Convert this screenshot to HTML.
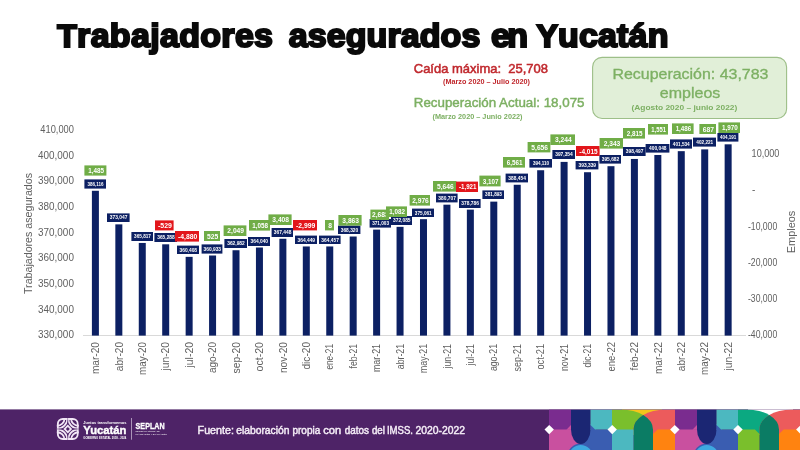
<!DOCTYPE html>
<html lang="es"><head><meta charset="utf-8"><title>Trabajadores asegurados en Yucatán</title>
<style>html,body{margin:0;padding:0;background:#fff;}body{width:800px;height:450px;overflow:hidden;}svg{display:block;}text{font-family:"Liberation Sans", sans-serif;}</style>
</head><body>
<svg width="800" height="450" viewBox="0 0 800 450">
<rect x="0" y="0" width="800" height="450" fill="#ffffff"/>
<g transform="translate(57.15,47.05) scale(1.030,1)"><text x="0" y="0" font-size="31.2" fill="#0a0a0a" font-weight="bold" textLength="209.56" lengthAdjust="spacing" stroke="#0a0a0a" stroke-width="2.1" stroke-linejoin="miter">T<tspan font-size="33">rabajadores</tspan></text></g>
<g transform="translate(288.70,47.05) scale(1.030,1)"><text x="0" y="0" font-size="33" fill="#0a0a0a" font-weight="bold" textLength="186.02" lengthAdjust="spacing" stroke="#0a0a0a" stroke-width="2.1" stroke-linejoin="miter">asegurados</text></g>
<g transform="translate(491.10,47.05) scale(1.030,1)"><text x="0" y="0" font-size="33" fill="#0a0a0a" font-weight="bold" textLength="35.83" lengthAdjust="spacing" stroke="#0a0a0a" stroke-width="2.1" stroke-linejoin="miter">en</text></g>
<g transform="translate(536.40,47.05) scale(1.030,1)"><text x="0" y="0" font-size="31.2" fill="#0a0a0a" font-weight="bold" textLength="128.16" lengthAdjust="spacing" stroke="#0a0a0a" stroke-width="2.1" stroke-linejoin="miter">Y<tspan font-size="33">ucatán</tspan></text></g>
<text x="413.75" y="73.25" font-size="12.60" fill="#c0282d" font-weight="normal" text-anchor="start" textLength="134.25" lengthAdjust="spacingAndGlyphs" xml:space="preserve" stroke="#c0282d" stroke-width="0.5">Caída máxima:  25,708</text>
<text x="443.00" y="84.20" font-size="6.40" fill="#c0282d" font-weight="bold" text-anchor="start" textLength="87.00" lengthAdjust="spacingAndGlyphs" >(Marzo 2020 – Julio 2020)</text>
<text x="413.75" y="107.00" font-size="13.20" fill="#7db063" font-weight="normal" text-anchor="start" textLength="170.75" lengthAdjust="spacingAndGlyphs" stroke="#7db063" stroke-width="0.45">Recuperación Actual: 18,075</text>
<text x="432.50" y="118.70" font-size="6.40" fill="#7db063" font-weight="bold" text-anchor="start" textLength="90.00" lengthAdjust="spacingAndGlyphs" >(Marzo 2020 – Junio 2022)</text>
<rect x="592.6" y="57.4" width="194" height="61.1" rx="9.5" ry="9.5" fill="#e1efd8" stroke="#9dbf88" stroke-width="1.1"/>
<text x="612.50" y="78.90" font-size="14.20" fill="#7db063" font-weight="normal" text-anchor="start" textLength="155.90" lengthAdjust="spacingAndGlyphs" stroke="#7db063" stroke-width="0.3">Recuperación: 43,783</text>
<text x="659.80" y="97.90" font-size="14.20" fill="#7db063" font-weight="normal" text-anchor="start" textLength="60.50" lengthAdjust="spacingAndGlyphs" stroke="#7db063" stroke-width="0.3">empleos</text>
<text x="631.40" y="110.10" font-size="7.60" fill="#7db063" font-weight="bold" text-anchor="start" textLength="105.90" lengthAdjust="spacingAndGlyphs" >(Agosto 2020 – junio 2022)</text>
<text x="73.90" y="338.40" font-size="10.00" fill="#606060" font-weight="normal" text-anchor="end" textLength="35.80" lengthAdjust="spacingAndGlyphs" >330,000</text>
<text x="73.90" y="312.70" font-size="10.00" fill="#606060" font-weight="normal" text-anchor="end" textLength="35.80" lengthAdjust="spacingAndGlyphs" >340,000</text>
<text x="73.90" y="287.00" font-size="10.00" fill="#606060" font-weight="normal" text-anchor="end" textLength="35.80" lengthAdjust="spacingAndGlyphs" >350,000</text>
<text x="73.90" y="261.30" font-size="10.00" fill="#606060" font-weight="normal" text-anchor="end" textLength="35.80" lengthAdjust="spacingAndGlyphs" >360,000</text>
<text x="73.90" y="235.60" font-size="10.00" fill="#606060" font-weight="normal" text-anchor="end" textLength="35.80" lengthAdjust="spacingAndGlyphs" >370,000</text>
<text x="73.90" y="209.90" font-size="10.00" fill="#606060" font-weight="normal" text-anchor="end" textLength="35.80" lengthAdjust="spacingAndGlyphs" >380,000</text>
<text x="73.90" y="184.20" font-size="10.00" fill="#606060" font-weight="normal" text-anchor="end" textLength="35.80" lengthAdjust="spacingAndGlyphs" >390,000</text>
<text x="73.90" y="158.50" font-size="10.00" fill="#606060" font-weight="normal" text-anchor="end" textLength="35.80" lengthAdjust="spacingAndGlyphs" >400,000</text>
<text x="73.90" y="132.80" font-size="10.00" fill="#606060" font-weight="normal" text-anchor="end" textLength="33.60" lengthAdjust="spacingAndGlyphs" >410,000</text>
<text x="751.60" y="157.15" font-size="10.00" fill="#606060" font-weight="normal" text-anchor="start" textLength="27.80" lengthAdjust="spacingAndGlyphs" >10,000</text>
<text x="752.00" y="193.40" font-size="10.00" fill="#606060" font-weight="normal" text-anchor="start" >-</text>
<text x="748.00" y="229.65" font-size="10.00" fill="#606060" font-weight="normal" text-anchor="start" textLength="29.20" lengthAdjust="spacingAndGlyphs" >-10,000</text>
<text x="748.00" y="265.90" font-size="10.00" fill="#606060" font-weight="normal" text-anchor="start" textLength="29.20" lengthAdjust="spacingAndGlyphs" >-20,000</text>
<text x="748.00" y="302.15" font-size="10.00" fill="#606060" font-weight="normal" text-anchor="start" textLength="29.20" lengthAdjust="spacingAndGlyphs" >-30,000</text>
<text x="748.00" y="338.40" font-size="10.00" fill="#606060" font-weight="normal" text-anchor="start" textLength="29.20" lengthAdjust="spacingAndGlyphs" >-40,000</text>
<text transform="translate(32.2,233.5) rotate(-90)" font-size="10.3" fill="#606060" text-anchor="middle" textLength="121" lengthAdjust="spacingAndGlyphs">Trabajadores asegurados</text>
<text transform="translate(795.2,232) rotate(-90)" font-size="10.3" fill="#606060" text-anchor="middle" textLength="42.5" lengthAdjust="spacingAndGlyphs">Empleos</text>
<rect x="83" y="335" width="663" height="1" fill="#d9d9d9"/>
<rect x="91.90" y="190.78" width="7.00" height="144.82" fill="#0c2063"/>
<rect x="115.34" y="224.37" width="7.00" height="111.23" fill="#0c2063"/>
<rect x="138.77" y="242.95" width="7.00" height="92.65" fill="#0c2063"/>
<rect x="162.20" y="244.31" width="7.00" height="91.29" fill="#0c2063"/>
<rect x="185.64" y="256.85" width="7.00" height="78.75" fill="#0c2063"/>
<rect x="209.07" y="255.50" width="7.00" height="80.10" fill="#0c2063"/>
<rect x="232.51" y="250.24" width="7.00" height="85.36" fill="#0c2063"/>
<rect x="255.94" y="247.52" width="7.00" height="88.08" fill="#0c2063"/>
<rect x="279.38" y="238.76" width="7.00" height="96.84" fill="#0c2063"/>
<rect x="302.81" y="246.47" width="7.00" height="89.13" fill="#0c2063"/>
<rect x="326.25" y="246.45" width="7.00" height="89.15" fill="#0c2063"/>
<rect x="349.68" y="236.52" width="7.00" height="99.08" fill="#0c2063"/>
<rect x="373.12" y="229.62" width="7.00" height="105.98" fill="#0c2063"/>
<rect x="396.55" y="226.84" width="7.00" height="108.76" fill="#0c2063"/>
<rect x="419.99" y="219.19" width="7.00" height="116.41" fill="#0c2063"/>
<rect x="443.42" y="204.68" width="7.00" height="130.92" fill="#0c2063"/>
<rect x="466.86" y="209.62" width="7.00" height="125.98" fill="#0c2063"/>
<rect x="490.29" y="201.63" width="7.00" height="133.97" fill="#0c2063"/>
<rect x="513.73" y="184.77" width="7.00" height="150.83" fill="#0c2063"/>
<rect x="537.16" y="170.24" width="7.00" height="165.36" fill="#0c2063"/>
<rect x="560.60" y="161.90" width="7.00" height="173.70" fill="#0c2063"/>
<rect x="584.03" y="172.22" width="7.00" height="163.38" fill="#0c2063"/>
<rect x="607.47" y="166.20" width="7.00" height="169.40" fill="#0c2063"/>
<rect x="630.90" y="158.96" width="7.00" height="176.64" fill="#0c2063"/>
<rect x="654.34" y="154.98" width="7.00" height="180.62" fill="#0c2063"/>
<rect x="677.77" y="151.16" width="7.00" height="184.44" fill="#0c2063"/>
<rect x="701.21" y="149.39" width="7.00" height="186.21" fill="#0c2063"/>
<rect x="724.64" y="144.33" width="7.00" height="191.27" fill="#0c2063"/>
<text transform="translate(99.10,342.00) rotate(-90)" font-size="10.2" fill="#606060" text-anchor="end" textLength="32.1" lengthAdjust="spacingAndGlyphs">mar-20</text>
<text transform="translate(122.54,342.00) rotate(-90)" font-size="10.2" fill="#606060" text-anchor="end" textLength="29.2" lengthAdjust="spacingAndGlyphs">abr-20</text>
<text transform="translate(145.97,342.00) rotate(-90)" font-size="10.2" fill="#606060" text-anchor="end" textLength="32.9" lengthAdjust="spacingAndGlyphs">may-20</text>
<text transform="translate(169.40,342.00) rotate(-90)" font-size="10.2" fill="#606060" text-anchor="end" textLength="28.5" lengthAdjust="spacingAndGlyphs">jun-20</text>
<text transform="translate(192.84,342.00) rotate(-90)" font-size="10.2" fill="#606060" text-anchor="end" textLength="25.5" lengthAdjust="spacingAndGlyphs">jul-20</text>
<text transform="translate(216.27,342.00) rotate(-90)" font-size="10.2" fill="#606060" text-anchor="end" textLength="31.1" lengthAdjust="spacingAndGlyphs">ago-20</text>
<text transform="translate(239.71,342.00) rotate(-90)" font-size="10.2" fill="#606060" text-anchor="end" textLength="31.5" lengthAdjust="spacingAndGlyphs">sep-20</text>
<text transform="translate(263.14,342.00) rotate(-90)" font-size="10.2" fill="#606060" text-anchor="end" textLength="29.5" lengthAdjust="spacingAndGlyphs">oct-20</text>
<text transform="translate(286.58,342.00) rotate(-90)" font-size="10.2" fill="#606060" text-anchor="end" textLength="31.1" lengthAdjust="spacingAndGlyphs">nov-20</text>
<text transform="translate(310.01,342.00) rotate(-90)" font-size="10.2" fill="#606060" text-anchor="end" textLength="27.5" lengthAdjust="spacingAndGlyphs">dic-20</text>
<text transform="translate(333.45,344.00) rotate(-90)" font-size="10.2" fill="#606060" text-anchor="end" textLength="25.6" lengthAdjust="spacingAndGlyphs">ene-21</text>
<text transform="translate(356.88,344.00) rotate(-90)" font-size="10.2" fill="#606060" text-anchor="end" textLength="24.4" lengthAdjust="spacingAndGlyphs">feb-21</text>
<text transform="translate(380.32,344.00) rotate(-90)" font-size="10.2" fill="#606060" text-anchor="end" textLength="28.1" lengthAdjust="spacingAndGlyphs">mar-21</text>
<text transform="translate(403.75,344.00) rotate(-90)" font-size="10.2" fill="#606060" text-anchor="end" textLength="25.2" lengthAdjust="spacingAndGlyphs">abr-21</text>
<text transform="translate(427.19,344.00) rotate(-90)" font-size="10.2" fill="#606060" text-anchor="end" textLength="28.9" lengthAdjust="spacingAndGlyphs">may-21</text>
<text transform="translate(450.62,344.00) rotate(-90)" font-size="10.2" fill="#606060" text-anchor="end" textLength="24.5" lengthAdjust="spacingAndGlyphs">jun-21</text>
<text transform="translate(474.06,344.00) rotate(-90)" font-size="10.2" fill="#606060" text-anchor="end" textLength="21.5" lengthAdjust="spacingAndGlyphs">jul-21</text>
<text transform="translate(497.49,344.00) rotate(-90)" font-size="10.2" fill="#606060" text-anchor="end" textLength="27.1" lengthAdjust="spacingAndGlyphs">ago-21</text>
<text transform="translate(520.93,344.00) rotate(-90)" font-size="10.2" fill="#606060" text-anchor="end" textLength="27.5" lengthAdjust="spacingAndGlyphs">sep-21</text>
<text transform="translate(544.37,344.00) rotate(-90)" font-size="10.2" fill="#606060" text-anchor="end" textLength="25.5" lengthAdjust="spacingAndGlyphs">oct-21</text>
<text transform="translate(567.80,344.00) rotate(-90)" font-size="10.2" fill="#606060" text-anchor="end" textLength="27.1" lengthAdjust="spacingAndGlyphs">nov-21</text>
<text transform="translate(591.24,344.00) rotate(-90)" font-size="10.2" fill="#606060" text-anchor="end" textLength="23.5" lengthAdjust="spacingAndGlyphs">dic-21</text>
<text transform="translate(614.67,342.00) rotate(-90)" font-size="10.2" fill="#606060" text-anchor="end" textLength="29.6" lengthAdjust="spacingAndGlyphs">ene-22</text>
<text transform="translate(638.11,342.00) rotate(-90)" font-size="10.2" fill="#606060" text-anchor="end" textLength="28.4" lengthAdjust="spacingAndGlyphs">feb-22</text>
<text transform="translate(661.54,342.00) rotate(-90)" font-size="10.2" fill="#606060" text-anchor="end" textLength="32.1" lengthAdjust="spacingAndGlyphs">mar-22</text>
<text transform="translate(684.98,342.00) rotate(-90)" font-size="10.2" fill="#606060" text-anchor="end" textLength="29.2" lengthAdjust="spacingAndGlyphs">abr-22</text>
<text transform="translate(708.41,342.00) rotate(-90)" font-size="10.2" fill="#606060" text-anchor="end" textLength="32.9" lengthAdjust="spacingAndGlyphs">may-22</text>
<text transform="translate(731.85,342.00) rotate(-90)" font-size="10.2" fill="#606060" text-anchor="end" textLength="28.5" lengthAdjust="spacingAndGlyphs">jun-22</text>
<rect x="717.40" y="133.00" width="21.00" height="8.60" fill="#0c2063"/>
<text x="728.20" y="139.06" font-size="4.90" fill="#ffffff" font-weight="bold" text-anchor="middle" textLength="16.18" lengthAdjust="spacingAndGlyphs" >404,191</text>
<rect x="693.00" y="137.60" width="23.00" height="9.00" fill="#0c2063"/>
<text x="704.80" y="143.86" font-size="4.90" fill="#ffffff" font-weight="bold" text-anchor="middle" textLength="16.86" lengthAdjust="spacingAndGlyphs" >402,221</text>
<rect x="670.00" y="139.40" width="22.00" height="9.20" fill="#0c2063"/>
<text x="681.30" y="145.76" font-size="4.90" fill="#ffffff" font-weight="bold" text-anchor="middle" textLength="16.86" lengthAdjust="spacingAndGlyphs" >401,534</text>
<rect x="645.60" y="144.00" width="23.80" height="8.60" fill="#0c2063"/>
<text x="657.80" y="150.06" font-size="4.90" fill="#ffffff" font-weight="bold" text-anchor="middle" textLength="17.54" lengthAdjust="spacingAndGlyphs" >400,048</text>
<rect x="623.00" y="147.00" width="22.60" height="9.00" fill="#0c2063"/>
<text x="634.60" y="153.26" font-size="4.90" fill="#ffffff" font-weight="bold" text-anchor="middle" textLength="17.54" lengthAdjust="spacingAndGlyphs" >398,497</text>
<rect x="599.40" y="155.00" width="21.60" height="8.60" fill="#0c2063"/>
<text x="610.50" y="161.06" font-size="4.90" fill="#ffffff" font-weight="bold" text-anchor="middle" textLength="17.54" lengthAdjust="spacingAndGlyphs" >395,682</text>
<rect x="575.60" y="161.00" width="22.80" height="8.40" fill="#0c2063"/>
<text x="587.30" y="166.96" font-size="4.90" fill="#ffffff" font-weight="bold" text-anchor="middle" textLength="17.54" lengthAdjust="spacingAndGlyphs" >393,339</text>
<rect x="552.40" y="150.00" width="22.60" height="9.00" fill="#0c2063"/>
<text x="564.00" y="156.26" font-size="4.90" fill="#ffffff" font-weight="bold" text-anchor="middle" textLength="17.54" lengthAdjust="spacingAndGlyphs" >397,354</text>
<rect x="529.40" y="159.00" width="22.60" height="8.60" fill="#0c2063"/>
<text x="541.00" y="165.06" font-size="4.90" fill="#ffffff" font-weight="bold" text-anchor="middle" textLength="16.18" lengthAdjust="spacingAndGlyphs" >394,110</text>
<rect x="505.60" y="173.60" width="22.40" height="8.80" fill="#0c2063"/>
<text x="517.10" y="179.76" font-size="4.90" fill="#ffffff" font-weight="bold" text-anchor="middle" textLength="17.54" lengthAdjust="spacingAndGlyphs" >388,454</text>
<rect x="482.40" y="190.40" width="21.60" height="8.60" fill="#0c2063"/>
<text x="493.50" y="196.46" font-size="4.90" fill="#ffffff" font-weight="bold" text-anchor="middle" textLength="16.86" lengthAdjust="spacingAndGlyphs" >381,893</text>
<rect x="459.00" y="199.00" width="21.60" height="9.00" fill="#0c2063"/>
<text x="470.10" y="205.26" font-size="4.90" fill="#ffffff" font-weight="bold" text-anchor="middle" textLength="17.54" lengthAdjust="spacingAndGlyphs" >378,786</text>
<rect x="436.00" y="193.60" width="21.60" height="8.80" fill="#0c2063"/>
<text x="447.10" y="199.76" font-size="4.90" fill="#ffffff" font-weight="bold" text-anchor="middle" textLength="17.54" lengthAdjust="spacingAndGlyphs" >380,707</text>
<rect x="412.00" y="208.60" width="22.00" height="8.40" fill="#0c2063"/>
<text x="423.30" y="214.56" font-size="4.90" fill="#ffffff" font-weight="bold" text-anchor="middle" textLength="16.86" lengthAdjust="spacingAndGlyphs" >375,061</text>
<rect x="391.00" y="216.00" width="21.00" height="9.00" fill="#0c2063"/>
<text x="401.80" y="222.26" font-size="4.90" fill="#ffffff" font-weight="bold" text-anchor="middle" textLength="17.54" lengthAdjust="spacingAndGlyphs" >372,085</text>
<rect x="369.60" y="219.00" width="21.40" height="8.60" fill="#0c2063"/>
<text x="380.60" y="225.06" font-size="4.90" fill="#ffffff" font-weight="bold" text-anchor="middle" textLength="16.86" lengthAdjust="spacingAndGlyphs" >371,003</text>
<rect x="338.00" y="225.60" width="22.40" height="8.40" fill="#0c2063"/>
<text x="349.50" y="231.56" font-size="4.90" fill="#ffffff" font-weight="bold" text-anchor="middle" textLength="17.54" lengthAdjust="spacingAndGlyphs" >368,320</text>
<rect x="319.00" y="235.60" width="21.60" height="8.40" fill="#0c2063"/>
<text x="330.10" y="241.56" font-size="4.90" fill="#ffffff" font-weight="bold" text-anchor="middle" textLength="17.54" lengthAdjust="spacingAndGlyphs" >364,457</text>
<rect x="295.00" y="235.60" width="22.00" height="8.40" fill="#0c2063"/>
<text x="306.30" y="241.56" font-size="4.90" fill="#ffffff" font-weight="bold" text-anchor="middle" textLength="17.54" lengthAdjust="spacingAndGlyphs" >364,449</text>
<rect x="271.60" y="228.00" width="21.40" height="9.00" fill="#0c2063"/>
<text x="282.60" y="234.26" font-size="4.90" fill="#ffffff" font-weight="bold" text-anchor="middle" textLength="17.54" lengthAdjust="spacingAndGlyphs" >367,448</text>
<rect x="248.00" y="237.00" width="22.00" height="9.00" fill="#0c2063"/>
<text x="259.30" y="243.26" font-size="4.90" fill="#ffffff" font-weight="bold" text-anchor="middle" textLength="17.54" lengthAdjust="spacingAndGlyphs" >364,040</text>
<rect x="224.40" y="239.00" width="22.60" height="9.00" fill="#0c2063"/>
<text x="236.00" y="245.26" font-size="4.90" fill="#ffffff" font-weight="bold" text-anchor="middle" textLength="17.54" lengthAdjust="spacingAndGlyphs" >362,982</text>
<rect x="201.60" y="244.40" width="20.80" height="9.20" fill="#0c2063"/>
<text x="212.30" y="250.76" font-size="4.90" fill="#ffffff" font-weight="bold" text-anchor="middle" textLength="17.54" lengthAdjust="spacingAndGlyphs" >360,933</text>
<rect x="177.00" y="245.60" width="22.00" height="8.40" fill="#0c2063"/>
<text x="188.30" y="251.56" font-size="4.90" fill="#ffffff" font-weight="bold" text-anchor="middle" textLength="17.54" lengthAdjust="spacingAndGlyphs" >360,408</text>
<rect x="154.40" y="233.00" width="22.60" height="9.00" fill="#0c2063"/>
<text x="166.00" y="239.26" font-size="4.90" fill="#ffffff" font-weight="bold" text-anchor="middle" textLength="17.54" lengthAdjust="spacingAndGlyphs" >365,288</text>
<rect x="131.40" y="232.00" width="21.60" height="9.00" fill="#0c2063"/>
<text x="142.50" y="238.26" font-size="4.90" fill="#ffffff" font-weight="bold" text-anchor="middle" textLength="16.86" lengthAdjust="spacingAndGlyphs" >365,817</text>
<rect x="107.00" y="213.40" width="22.60" height="8.60" fill="#0c2063"/>
<text x="118.60" y="219.46" font-size="4.90" fill="#ffffff" font-weight="bold" text-anchor="middle" textLength="17.54" lengthAdjust="spacingAndGlyphs" >373,047</text>
<rect x="84.40" y="179.40" width="21.60" height="9.20" fill="#0c2063"/>
<text x="95.50" y="185.76" font-size="4.90" fill="#ffffff" font-weight="bold" text-anchor="middle" textLength="16.18" lengthAdjust="spacingAndGlyphs" >386,116</text>
<rect x="84.40" y="165.40" width="22.00" height="10.20" fill="#70ad47"/>
<text x="96.10" y="173.16" font-size="7.40" fill="#ffffff" font-weight="bold" text-anchor="middle" textLength="15.75" lengthAdjust="spacingAndGlyphs" >1,485</text>
<rect x="155.00" y="220.40" width="18.60" height="10.00" fill="#e2161b"/>
<text x="165.00" y="228.06" font-size="7.40" fill="#ffffff" font-weight="bold" text-anchor="middle" textLength="13.88" lengthAdjust="spacingAndGlyphs" >-529</text>
<rect x="175.00" y="231.00" width="24.00" height="10.60" fill="#e2161b"/>
<text x="187.70" y="238.96" font-size="7.40" fill="#ffffff" font-weight="bold" text-anchor="middle" textLength="19.31" lengthAdjust="spacingAndGlyphs" >-4,880</text>
<rect x="204.00" y="231.00" width="16.00" height="10.00" fill="#70ad47"/>
<text x="212.70" y="238.66" font-size="7.40" fill="#ffffff" font-weight="bold" text-anchor="middle" textLength="11.25" lengthAdjust="spacingAndGlyphs" >525</text>
<rect x="223.60" y="225.40" width="22.80" height="10.60" fill="#70ad47"/>
<text x="235.70" y="233.36" font-size="7.40" fill="#ffffff" font-weight="bold" text-anchor="middle" textLength="16.69" lengthAdjust="spacingAndGlyphs" >2,049</text>
<rect x="249.00" y="220.00" width="21.00" height="10.60" fill="#70ad47"/>
<text x="260.20" y="227.96" font-size="7.40" fill="#ffffff" font-weight="bold" text-anchor="middle" textLength="15.75" lengthAdjust="spacingAndGlyphs" >1,058</text>
<rect x="268.40" y="214.40" width="23.20" height="10.60" fill="#70ad47"/>
<text x="280.70" y="222.36" font-size="7.40" fill="#ffffff" font-weight="bold" text-anchor="middle" textLength="16.69" lengthAdjust="spacingAndGlyphs" >3,408</text>
<rect x="293.00" y="220.00" width="24.00" height="10.40" fill="#e2161b"/>
<text x="305.70" y="227.86" font-size="7.40" fill="#ffffff" font-weight="bold" text-anchor="middle" textLength="19.31" lengthAdjust="spacingAndGlyphs" >-2,999</text>
<rect x="325.00" y="220.00" width="9.00" height="10.40" fill="#70ad47"/>
<text x="330.20" y="227.86" font-size="7.40" fill="#ffffff" font-weight="bold" text-anchor="middle" textLength="3.75" lengthAdjust="spacingAndGlyphs" >8</text>
<rect x="338.40" y="215.00" width="23.20" height="10.60" fill="#70ad47"/>
<text x="350.70" y="222.96" font-size="7.40" fill="#ffffff" font-weight="bold" text-anchor="middle" textLength="16.69" lengthAdjust="spacingAndGlyphs" >3,863</text>
<rect x="370.40" y="209.60" width="18.60" height="10.40" fill="#70ad47"/>
<text x="380.40" y="217.46" font-size="7.40" fill="#ffffff" font-weight="bold" text-anchor="middle" textLength="16.69" lengthAdjust="spacingAndGlyphs" >2,683</text>
<rect x="386.00" y="206.40" width="21.00" height="10.60" fill="#70ad47"/>
<text x="397.20" y="214.36" font-size="7.40" fill="#ffffff" font-weight="bold" text-anchor="middle" textLength="15.75" lengthAdjust="spacingAndGlyphs" >1,082</text>
<rect x="409.60" y="195.00" width="20.40" height="10.60" fill="#70ad47"/>
<text x="420.50" y="202.96" font-size="7.40" fill="#ffffff" font-weight="bold" text-anchor="middle" textLength="16.69" lengthAdjust="spacingAndGlyphs" >2,976</text>
<rect x="433.00" y="181.00" width="23.40" height="10.60" fill="#70ad47"/>
<text x="445.40" y="188.96" font-size="7.40" fill="#ffffff" font-weight="bold" text-anchor="middle" textLength="16.69" lengthAdjust="spacingAndGlyphs" >5,646</text>
<rect x="456.00" y="181.60" width="22.00" height="10.40" fill="#e2161b"/>
<text x="467.70" y="189.46" font-size="7.40" fill="#ffffff" font-weight="bold" text-anchor="middle" textLength="17.44" lengthAdjust="spacingAndGlyphs" >-1,921</text>
<rect x="479.40" y="175.60" width="21.20" height="10.80" fill="#70ad47"/>
<text x="490.70" y="183.66" font-size="7.40" fill="#ffffff" font-weight="bold" text-anchor="middle" textLength="15.75" lengthAdjust="spacingAndGlyphs" >3,107</text>
<rect x="503.00" y="157.00" width="22.00" height="10.60" fill="#70ad47"/>
<text x="514.70" y="164.96" font-size="7.40" fill="#ffffff" font-weight="bold" text-anchor="middle" textLength="15.75" lengthAdjust="spacingAndGlyphs" >6,561</text>
<rect x="527.60" y="142.00" width="22.80" height="10.40" fill="#70ad47"/>
<text x="539.70" y="149.86" font-size="7.40" fill="#ffffff" font-weight="bold" text-anchor="middle" textLength="16.69" lengthAdjust="spacingAndGlyphs" >5,656</text>
<rect x="550.40" y="134.40" width="24.60" height="10.60" fill="#70ad47"/>
<text x="563.40" y="142.36" font-size="7.40" fill="#ffffff" font-weight="bold" text-anchor="middle" textLength="16.69" lengthAdjust="spacingAndGlyphs" >3,244</text>
<rect x="576.00" y="146.00" width="23.60" height="10.00" fill="#e2161b"/>
<text x="588.50" y="153.66" font-size="7.40" fill="#ffffff" font-weight="bold" text-anchor="middle" textLength="18.38" lengthAdjust="spacingAndGlyphs" >-4,015</text>
<rect x="599.60" y="138.00" width="23.40" height="10.60" fill="#70ad47"/>
<text x="612.00" y="145.96" font-size="7.40" fill="#ffffff" font-weight="bold" text-anchor="middle" textLength="16.69" lengthAdjust="spacingAndGlyphs" >2,343</text>
<rect x="623.00" y="128.00" width="22.00" height="10.60" fill="#70ad47"/>
<text x="634.70" y="135.96" font-size="7.40" fill="#ffffff" font-weight="bold" text-anchor="middle" textLength="15.75" lengthAdjust="spacingAndGlyphs" >2,815</text>
<rect x="648.00" y="124.00" width="20.00" height="10.60" fill="#70ad47"/>
<text x="658.70" y="131.96" font-size="7.40" fill="#ffffff" font-weight="bold" text-anchor="middle" textLength="14.81" lengthAdjust="spacingAndGlyphs" >1,551</text>
<rect x="672.00" y="123.40" width="21.60" height="10.60" fill="#70ad47"/>
<text x="683.50" y="131.36" font-size="7.40" fill="#ffffff" font-weight="bold" text-anchor="middle" textLength="15.75" lengthAdjust="spacingAndGlyphs" >1,486</text>
<rect x="699.40" y="124.00" width="16.60" height="10.00" fill="#70ad47"/>
<text x="708.40" y="131.66" font-size="7.40" fill="#ffffff" font-weight="bold" text-anchor="middle" textLength="11.25" lengthAdjust="spacingAndGlyphs" >687</text>
<rect x="718.40" y="122.40" width="21.60" height="10.60" fill="#70ad47"/>
<text x="729.90" y="130.36" font-size="7.40" fill="#ffffff" font-weight="bold" text-anchor="middle" textLength="15.75" lengthAdjust="spacingAndGlyphs" >1,970</text>
<rect x="0" y="409.4" width="800" height="40.6" fill="#4e2367"/>
<text x="197.60" y="434.00" font-size="10.30" fill="#f4ecf6" font-weight="normal" text-anchor="start" textLength="36.40" lengthAdjust="spacingAndGlyphs" stroke="#f4ecf6" stroke-width="0.45">Fuente:</text>
<text x="236.20" y="434.00" font-size="10.30" fill="#f4ecf6" font-weight="normal" text-anchor="start" textLength="53.30" lengthAdjust="spacingAndGlyphs" stroke="#f4ecf6" stroke-width="0.45">elaboración</text>
<text x="292.45" y="434.00" font-size="10.30" fill="#f4ecf6" font-weight="normal" text-anchor="start" textLength="27.80" lengthAdjust="spacingAndGlyphs" stroke="#f4ecf6" stroke-width="0.45">propia</text>
<text x="323.20" y="434.00" font-size="10.30" fill="#f4ecf6" font-weight="normal" text-anchor="start" textLength="17.90" lengthAdjust="spacingAndGlyphs" stroke="#f4ecf6" stroke-width="0.45">con</text>
<text x="344.70" y="434.00" font-size="10.30" fill="#f4ecf6" font-weight="normal" text-anchor="start" textLength="24.20" lengthAdjust="spacingAndGlyphs" stroke="#f4ecf6" stroke-width="0.45">datos</text>
<text x="371.90" y="434.00" font-size="10.30" fill="#f4ecf6" font-weight="normal" text-anchor="start" textLength="13.00" lengthAdjust="spacingAndGlyphs" stroke="#f4ecf6" stroke-width="0.45">del</text>
<text x="386.90" y="434.00" font-size="10.30" fill="#f4ecf6" font-weight="normal" text-anchor="start" textLength="26.10" lengthAdjust="spacingAndGlyphs" stroke="#f4ecf6" stroke-width="0.45">IMSS.</text>
<text x="415.60" y="434.00" font-size="10.30" fill="#f4ecf6" font-weight="normal" text-anchor="start" textLength="49.50" lengthAdjust="spacingAndGlyphs" stroke="#f4ecf6" stroke-width="0.45">2020-2022</text>
<g id="logo">
<g transform="translate(67.8,429.0)">
<g transform="rotate(0)">
<clipPath id="q0"><rect x="0.4" y="-11" width="10.6" height="10.6"/></clipPath>
<g clip-path="url(#q0)" fill="none" stroke="#f1e6f5">
<circle cx="10.85" cy="-10.85" r="7.6" stroke-width="1.8"/>
<circle cx="10.85" cy="-10.85" r="10.5" stroke-width="1.8"/>
<rect x="-10.0" y="-10.0" width="20" height="20" rx="5.0" ry="5.0" stroke-width="1.9"/>
</g>
</g>
<g transform="rotate(90)">
<clipPath id="q90"><rect x="0.4" y="-11" width="10.6" height="10.6"/></clipPath>
<g clip-path="url(#q90)" fill="none" stroke="#f1e6f5">
<circle cx="10.85" cy="-10.85" r="7.6" stroke-width="1.8"/>
<circle cx="10.85" cy="-10.85" r="10.5" stroke-width="1.8"/>
<rect x="-10.0" y="-10.0" width="20" height="20" rx="5.0" ry="5.0" stroke-width="1.9"/>
</g>
</g>
<g transform="rotate(180)">
<clipPath id="q180"><rect x="0.4" y="-11" width="10.6" height="10.6"/></clipPath>
<g clip-path="url(#q180)" fill="none" stroke="#f1e6f5">
<circle cx="10.85" cy="-10.85" r="7.6" stroke-width="1.8"/>
<circle cx="10.85" cy="-10.85" r="10.5" stroke-width="1.8"/>
<rect x="-10.0" y="-10.0" width="20" height="20" rx="5.0" ry="5.0" stroke-width="1.9"/>
</g>
</g>
<g transform="rotate(270)">
<clipPath id="q270"><rect x="0.4" y="-11" width="10.6" height="10.6"/></clipPath>
<g clip-path="url(#q270)" fill="none" stroke="#f1e6f5">
<circle cx="10.85" cy="-10.85" r="7.6" stroke-width="1.8"/>
<circle cx="10.85" cy="-10.85" r="10.5" stroke-width="1.8"/>
<rect x="-10.0" y="-10.0" width="20" height="20" rx="5.0" ry="5.0" stroke-width="1.9"/>
</g>
</g>
<path d="M0,-4.4 L4.4,0 L0,4.4 L-4.4,0Z" fill="#f1e6f5"/>
<path d="M0,-2.0 L2.0,0 L0,2.0 L-2.0,0Z" fill="#4e2367"/>
</g>
<text x="83.30" y="423.80" font-size="4.40" fill="#ffffff" font-weight="bold" text-anchor="start" textLength="43.10" lengthAdjust="spacingAndGlyphs" >Juntos transformemos</text>
<text x="83.30" y="434.00" font-size="11.40" fill="#ffffff" font-weight="bold" text-anchor="start" textLength="43.10" lengthAdjust="spacingAndGlyphs" stroke="#ffffff" stroke-width="0.4">Yucatán</text>
<text x="83.30" y="438.50" font-size="2.60" fill="#ffffff" font-weight="bold" text-anchor="start" textLength="43.10" lengthAdjust="spacingAndGlyphs" >GOBIERNO ESTATAL 2018 - 2024</text>
<rect x="131" y="418" width="0.6" height="21.7" fill="#e9dff0"/>
<text x="135.60" y="428.80" font-size="8.30" fill="#ffffff" font-weight="bold" text-anchor="start" textLength="29.00" lengthAdjust="spacingAndGlyphs" stroke="#ffffff" stroke-width="0.3">SEPLAN</text>
<text x="135.60" y="432.40" font-size="2.00" fill="#ffffff" font-weight="normal" text-anchor="start" textLength="24.00" lengthAdjust="spacingAndGlyphs" >SECRETARÍA TÉCNICA DE</text>
<text x="135.60" y="434.60" font-size="2.00" fill="#ffffff" font-weight="normal" text-anchor="start" textLength="31.40" lengthAdjust="spacingAndGlyphs" >PLANEACIÓN Y EVALUACIÓN</text>
</g>
<g id="pattern">
<clipPath id="pc"><rect x="540" y="409.40" width="260" height="40.60"/></clipPath>
<g clip-path="url(#pc)">
<rect x="549.00" y="429.00" width="41.50" height="21.00" fill="#c9509f"/>
<rect x="549.00" y="409.40" width="22.00" height="20.10" fill="#7a2c8f"/>
<path d="M571.00,424.90 L571.00,429.70 L566.40,429.70 Z" fill="#c9509f"/>
<rect x="580.75" y="429.50" width="31.25" height="20.50" fill="#3a5db1"/>
<circle cx="580.75" cy="457" r="13.5" fill="#3a5db1"/>
<circle cx="580.75" cy="457" r="12.0" fill="#3ea8e0"/>
<path d="M571.00,409.40 L590.50,409.40 L590.50,429.50 A9.75,14.4 0 0 1 571.00,429.50 Z" fill="#1b2673"/>
<rect x="590.30" y="424.40" width="5.60" height="5.60" fill="#3a5db1"/>
<path d="M590.50,409.40 L612.00,409.40 L612.00,429.50 L595.10,429.50 L590.50,424.90 Z" fill="#4cb8c0"/>
<rect x="622.00" y="409.40" width="40.00" height="8.00" fill="#f6c51b"/>
<path d="M612.00,435.10 L612.00,409.40 L621.00,409.40 A32.00,20.10 0 0 1 653.00,429.50 L653.00,435.10 Z" fill="#7abf2c"/>
<path d="M675.00,435.10 L675.00,409.40 L665.50,409.40 A32.00,20.10 0 0 0 633.50,429.50 L633.50,435.10 Z" fill="#ec5b5c"/>
<path d="M633.50,450.00 L633.50,429.50 A32.00,20.10 0 0 1 643.25,415.05 A32.00,20.10 0 0 1 653.00,429.50 L653.00,450.00 Z" fill="#0b7c64"/>
<rect x="612.00" y="429.50" width="21.50" height="20.50" fill="#4cb8c0"/>
<path d="M657.60,429.50 L675.00,429.50 L675.00,450.00 L653.00,450.00 L653.00,434.10 Z" fill="#ff8310"/>
<rect x="675.00" y="429.00" width="41.50" height="21.00" fill="#c9509f"/>
<rect x="675.00" y="409.40" width="22.00" height="20.10" fill="#7a2c8f"/>
<path d="M697.00,424.90 L697.00,429.70 L692.40,429.70 Z" fill="#c9509f"/>
<rect x="706.75" y="429.50" width="31.25" height="20.50" fill="#3a5db1"/>
<circle cx="706.75" cy="457" r="13.5" fill="#3a5db1"/>
<circle cx="706.75" cy="457" r="12.0" fill="#3ea8e0"/>
<path d="M697.00,409.40 L716.50,409.40 L716.50,429.50 A9.75,14.4 0 0 1 697.00,429.50 Z" fill="#1b2673"/>
<rect x="716.30" y="424.40" width="5.60" height="5.60" fill="#3a5db1"/>
<path d="M716.50,409.40 L738.00,409.40 L738.00,429.50 L721.10,429.50 L716.50,424.90 Z" fill="#4cb8c0"/>
<rect x="748.00" y="408.40" width="45.00" height="10.00" fill="#ffffff"/>
<path d="M738.00,435.10 L738.00,409.40 L747.00,409.40 A32.00,20.10 0 0 1 779.00,429.50 L779.00,435.10 Z" fill="#0ba981"/>
<path d="M801.00,435.10 L801.00,409.40 L791.50,409.40 A32.00,20.10 0 0 0 759.50,429.50 L759.50,435.10 Z" fill="#ec5b5c"/>
<path d="M759.50,450.00 L759.50,429.50 A32.00,20.10 0 0 1 769.25,415.05 A32.00,20.10 0 0 1 779.00,429.50 L779.00,450.00 Z" fill="#0b7c64"/>
<path d="M738.00,429.50 L754.90,429.50 L759.50,434.10 L759.50,450.00 L738.00,450.00 Z" fill="#7abf2c"/>
<path d="M783.60,429.50 L801.00,429.50 L801.00,450.00 L779.00,450.00 L779.00,434.10 Z" fill="#ff8310"/>
<path d="M549.20,424.90 l4.7,4.7 l-4.7,4.7 l-4.7,-4.7Z" fill="#ffffff"/>
<path d="M612.20,424.90 l4.7,4.7 l-4.7,4.7 l-4.7,-4.7Z" fill="#ffffff"/>
<path d="M674.80,424.90 l4.7,4.7 l-4.7,4.7 l-4.7,-4.7Z" fill="#ffffff"/>
<path d="M738.00,424.90 l4.7,4.7 l-4.7,4.7 l-4.7,-4.7Z" fill="#ffffff"/>
<path d="M800.80,424.90 l4.7,4.7 l-4.7,4.7 l-4.7,-4.7Z" fill="#ffffff"/>
</g></g>
</svg>
</body></html>
